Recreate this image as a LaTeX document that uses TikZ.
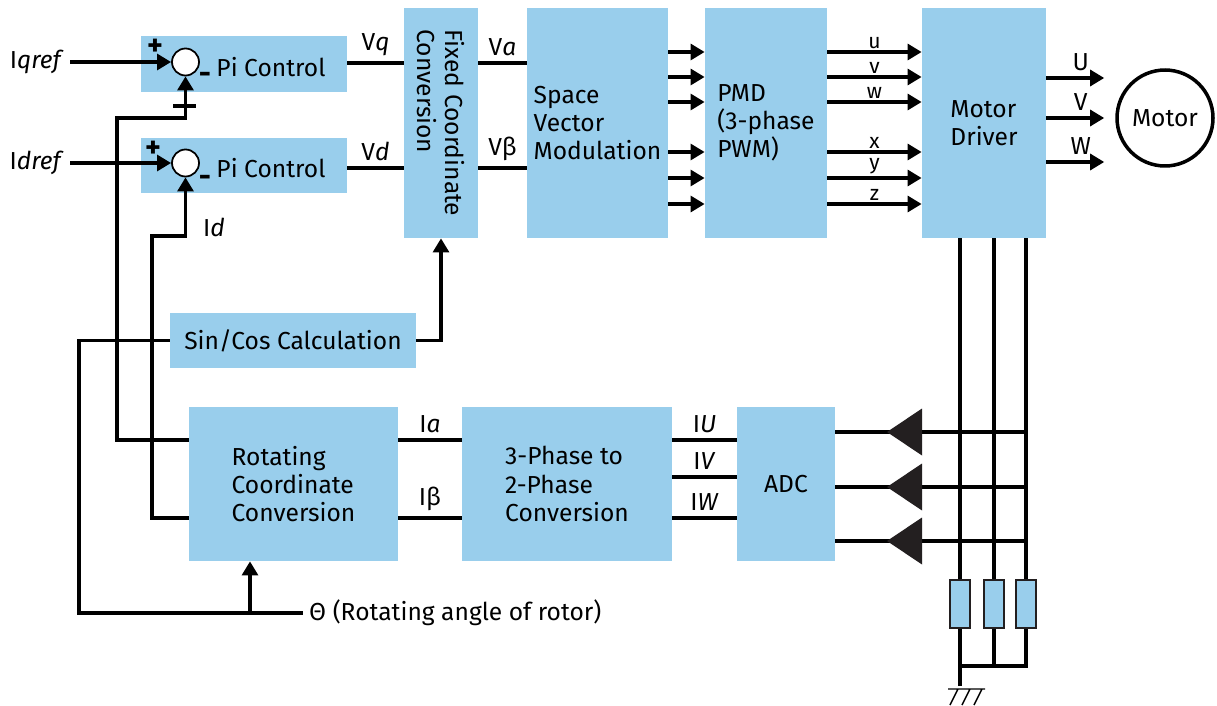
\documentclass[tikz,border=0pt]{standalone}
\usepackage{fontspec}
\setmainfont{Fira Sans}
\usetikzlibrary{arrows.meta}
\definecolor{boxblue}{RGB}{153,206,236}
\definecolor{ampgray}{RGB}{35,31,32}

\begin{document}
\begin{tikzpicture}[x=0.02cm, y=-0.02cm, auto,
    font=\fontsize{14}{16}\selectfont,
    blk/.style={fill=boxblue, inner sep=0pt, align=left},
    sum/.style={circle, draw, fill=white, line width=1pt, minimum size=0.54cm, inner sep=0pt},
    sign/.style={font=\fontsize{17}{17}\selectfont\bfseries, inner sep=0pt},
    res/.style={fill=boxblue, draw=ampgray, line width=1.1pt, minimum width=0.4cm, minimum height=0.96cm, inner sep=0pt},
    wire/.style={line width=2pt},
    arr/.style={wire, -{Triangle[length=8pt,width=9pt]}}]
    \useasboundingbox (0,0) rectangle (1217,706);
    % blocks
    \node[blk, minimum width=4.12cm, minimum height=1.12cm] (pi1) at (244,64) {};
    \node[blk, minimum width=4.12cm, minimum height=1.12cm] (pi2) at (244,165.5) {};
    \node[sum] (s1) at (185.5,62) {};
    \node[sum] (s2) at (185.5,163) {};
    \node (pc1) at (271,67) {Pi Control};
    \node (pc2) at (271,168) {Pi Control};
    \node[sign] (p1) at (155,47) {+};
    \node[sign] (p2) at (153,149) {+};
    \node[sign] (m1) at (205,78) {-};
    \node[sign] (m2) at (205,181) {-};
    \node[blk, minimum width=1.48cm, minimum height=4.6cm] (fcc) at (441,123) {};
    \node[rotate=-90, align=left] (fcctxt) at (fcc.center) {Fixed Coordinate\\Conversion};
    \node[blk, minimum width=2.82cm, minimum height=4.6cm] (svm) at (597.5,123) {Space\\Vector\\Modulation};
    \node[blk, minimum width=2.44cm, minimum height=4.6cm] (pmd) at (766,123) {PMD\\(3-phase\\PWM)};
    \node[blk, minimum width=2.48cm, minimum height=4.6cm] (md) at (984,123) {Motor\\Driver};
    \node[circle, draw, line width=2pt, minimum size=1.92cm] (motor) at (1165,118) {Motor};
    \node[blk, minimum width=4.92cm, minimum height=1.1cm] (sincos) at (293,340.5) {Sin/Cos Calculation};
    \node[blk, minimum width=4.18cm, minimum height=3.08cm] (rot) at (293.5,484) {Rotating\\Coordinate\\Conversion};
    \node[blk, minimum width=4.2cm, minimum height=3.08cm] (tp) at (567,484) {3-Phase to\\2-Phase\\Conversion};
    \node[blk, minimum width=1.96cm, minimum height=3.08cm] (adc) at (786,484) {ADC};
    \node[res] (r1) at (960,604) {};
    \node[res] (r2) at (994,604) {};
    \node[res] (r3) at (1026,604) {};
    \node[anchor=east] (iq) at (70,62) {I\textit{qref}};
    \node[anchor=east] (id) at (70,163) {I\textit{dref}};
    \node[anchor=west] (theta) at (303,613) {Θ (Rotating angle of rotor)};
    \node (idfb) at (214,227) {I\textit{d}};
    % references and feedback
    \draw[arr] (iq.east) -- (s1.west);
    \draw[arr] (id.east) -- (s2.west);
    \draw[arr] (rot.west |- 0,440) -| (117,118) -| (s1.south);
    \draw[wire] (173,106) -- (196,106);
    \draw[arr] (rot.west |- 0,518) -| (152,236) -| (s2.south);
    % forward path
    \draw[wire] (pi1.east |- 0,63) to node {V\textit{q}} (fcc.west |- 0,63);
    \draw[wire] (pi2.east |- 0,168) to node {V\textit{d}} (fcc.west |- 0,168);
    \draw[wire] (fcc.east |- 0,63) to node {V\textit{a}} (svm.west |- 0,63);
    \draw[wire] (fcc.east |- 0,168) to node {Vβ} (svm.west |- 0,168);
    \foreach \y in {52,77,102,152,178,204}
        \draw[arr] (svm.east |- 0,\y) -- (pmd.west |- 0,\y);
    \foreach \y/\l in {52/u,77/v,102/w,152/x,178/y,204/z}
        \draw[arr] (pmd.east |- 0,\y) to node[inner sep=1pt, font=\fontsize{12}{12}\selectfont] {\l} (md.west |- 0,\y);
    \foreach \y/\l in {78/U,118/V,162/W}
        \draw[arr, shorten >=0.22cm] (md.east |- 0,\y) to node {\l} (motor.west |- 0,\y);
    % angle
    \draw[arr] (sincos.east) -| (fcc.south);
    \draw[wire] (sincos.west) -| (79,613) -- (theta.west);
    \coordinate (tap) at (250,613);
    \draw[arr] (tap) -- (tap |- rot.south);
    % current measurement
    \draw[wire] (rot.east |- 0,440) to node {I\textit{a}} (tp.west |- 0,440);
    \draw[wire] (rot.east |- 0,518) to node {Iβ} (tp.west |- 0,518);
    \foreach \y/\l in {440/U,477/V,518/W}
        \draw[wire] (tp.east |- 0,\y) to node {I\textit{\l}} (adc.west |- 0,\y);
    \foreach \y in {432,487,541} {
        \draw[wire] (adc.east |- 0,\y) -- (r3.north |- 0,\y);
        \fill[ampgray] (922,\y-23.5) -- (922,\y+23.5) -- (887,\y) -- cycle;
    }
    \foreach \r in {r1,r2,r3}
        \draw[wire] (\r.north |- md.south) -- (\r.north);
    \draw[wire] (r1.south) -- (r1.south |- 0,666) -| (r3.south);
    \draw[wire] (r2.south) -- (r2.south |- 0,666);
    \draw[wire] (r1.south) -- (r1.south |- 0,686);
    % ground
    \draw[line width=0.8pt] (948,689) -- (985,689)
        (958,689) -- (950,705) (970,689) -- (962,705) (982,689) -- (974,705);
\end{tikzpicture}
\end{document}
